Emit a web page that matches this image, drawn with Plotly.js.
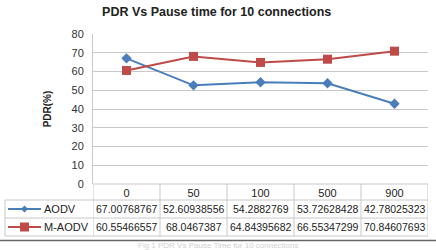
<!DOCTYPE html>
<html><head><meta charset="utf-8">
<script src="https://cdn.plot.ly/plotly-3.0.1.min.js"></script>
<style>html,body{margin:0;padding:0;background:#fff;}#chart{width:436px;height:250px;}</style>
</head><body><div id="chart"></div>
<script>
const categories = ['0', '50', '100', '500', '900'];
const aodvLabels = ['67.00768767', '52.60938556', '54.2882769', '53.72628428', '42.78025323'];
const maodvLabels = ['60.55466557', '68.0467387', '64.84395682', '66.55347299', '70.84607693'];
const aodv = aodvLabels.map(Number);
const maodv = maodvLabels.map(Number);
const seriesNames = ['AODV', 'M-AODV'];

const W = 436, H = 250;
const M = {l: 93, r: 8, t: 34, b: 66};
const ph = H - M.t - M.b, pw = W - M.l - M.r;
const py = p => (H - M.b - p) / ph; // pixel y -> paper
const px = p => (p - M.l) / pw;

const rowTops = [184, 200, 218, 236];
const gridCol = '#c8c8c8';
const shapes = [];
shapes.push({type:'line', xref:'x', yref:'paper', x0:-0.5, x1:4.5, y0:py(rowTops[0]), y1:py(rowTops[0]), line:{color:gridCol, width:1}});
for (let i = 1; i < rowTops.length; i++) {
  shapes.push({type:'line', xref:'paper', yref:'paper', x0:px(5), x1:1, y0:py(rowTops[i]), y1:py(rowTops[i]), line:{color:gridCol, width:1}});
}
for (let i = 0; i <= categories.length; i++) {
  shapes.push({type:'line', xref:'x', yref:'paper', x0:i-0.5, x1:i-0.5, y0:py(rowTops[0]), y1:py(rowTops[3]), line:{color:gridCol, width:1}});
}
shapes.push({type:'line', xref:'paper', yref:'paper', x0:px(5), x1:px(5), y0:py(rowTops[1]), y1:py(rowTops[3]), line:{color:gridCol, width:1}});
shapes.push({type:'line', xref:'paper', yref:'paper', x0:px(0), x1:px(436), y0:py(240.5), y1:py(240.5), line:{color:'#666', width:1.5}});

const colors = ['#4a7ebb', '#be4b48'];
const symbols = ['diamond', 'square'];
const sizes = [8, 9];
const annotations = [];
const rowsVals = [aodvLabels, maodvLabels];
rowsVals.forEach((row, r) => {
  const ycp = (rowTops[r+1] + rowTops[r+2]) / 2;
  const yc = py(ycp);
  row.forEach((t, i) => annotations.push({xref:'x', yref:'paper', x:i, y:yc, text:t, showarrow:false, font:{family:'Liberation Sans, Arial', size:10.5, color:'#222'}, xanchor:'center', yanchor:'middle'}));
  annotations.push({xref:'paper', yref:'paper', x:px(42), y:yc, text:seriesNames[r], showarrow:false, xanchor:'left', yanchor:'middle', font:{family:'Liberation Sans, Arial', size:11, color:'#222'}});
  shapes.push({type:'line', xref:'paper', yref:'paper', x0:px(8), x1:px(41), y0:yc, y1:yc, line:{color:colors[r], width:2}});
  if (r === 0) {
    const s = 3.5;
    shapes.push({type:'path', xref:'paper', yref:'paper', path:`M ${px(24.5)},${py(ycp - s)} L ${px(24.5+s)},${yc} L ${px(24.5)},${py(ycp + s)} L ${px(24.5-s)},${yc} Z`, fillcolor:colors[r], line:{width:0}});
  } else {
    const s = 4.5;
    shapes.push({type:'rect', xref:'paper', yref:'paper', x0:px(24.5-s), x1:px(24.5+s), y0:py(ycp + s), y1:py(ycp - s), fillcolor:colors[r], line:{width:0}});
  }
});
annotations.push({xref:'paper', yref:'paper', x:px(218), y:py(252), text:'Fig 1 PDR Vs Pause Time for 10 connections', showarrow:false, xanchor:'center', yanchor:'bottom', font:{family:'Liberation Sans, Arial', size:8, color:'#d0d0d0'}});

const traces = [aodv, maodv].map((vals, k) => ({
  type:'scatter', mode:'lines+markers', x:categories, y:vals, name:seriesNames[k],
  line:{color:colors[k], width:2}, marker:{symbol:symbols[k], size:sizes[k], color:colors[k]},
  cliponaxis:false
}));

const layout = {
  width:W, height:H, margin:M, showlegend:false,
  paper_bgcolor:'#fff', plot_bgcolor:'#fff',
  title:{text:'<b>PDR Vs Pause time for 10 connections</b>', font:{family:'Liberation Sans, Arial', size:12.5, color:'#222'}, x:0.497, xanchor:'center', y:1-12/H, yanchor:'middle'},
  xaxis:{type:'category', range:[-0.5, 4.5], showgrid:false, zeroline:false, showline:false, ticks:'', tickfont:{family:'Liberation Sans, Arial', size:11, color:'#222'}, ticklabelstandoff:1, fixedrange:true},
  yaxis:{range:[0, 80], dtick:10, showgrid:true, gridcolor:'#c8c8c8', gridwidth:1, zeroline:false, showline:true, linecolor:'#c8c8c8', linewidth:1, ticks:'', tickfont:{family:'Liberation Sans, Arial', size:11, color:'#333'}, ticklabelstandoff:6,
    title:{text:'<b>PDR(%)</b>', font:{family:'Liberation Sans, Arial', size:10, color:'#222'}, standoff:18}},
  shapes, annotations
};
Plotly.newPlot('chart', traces, layout, {displayModeBar:false, staticPlot:true});
</script></body></html>
